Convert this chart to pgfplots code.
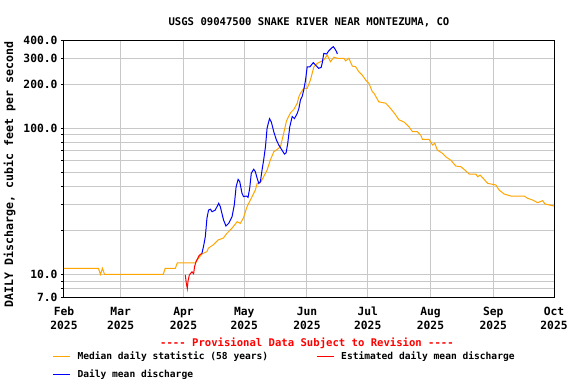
\documentclass[border=0pt]{standalone}
\usepackage{fontspec}
\setmonofont{DejaVu Sans Mono}
\usepackage{pgfplots}
\pgfplotsset{compat=1.18}
\definecolor{med}{HTML}{FFA500}
\definecolor{gridg}{HTML}{C8C8C8}
\newcommand{\ml}[1]{\vphantom{Feb}#1\\2025}
\begin{document}
\begin{tikzpicture}[x=1pt,y=1pt]
\path[use as bounding box] (0,0) rectangle (576,384);
\begin{axis}[
  at={(64pt,87pt)}, anchor=south west,
  scale only axis, width=490pt, height=257pt,
  ymode=log, ymin=7, ymax=400,
  xmin=0, xmax=242,
  axis line style={black, line width=1pt},
  xtick={0,28,59,89,120,150,181,212,242},
  xticklabels={\ml{Feb},\ml{Mar},\ml{Apr},\ml{May},\ml{Jun},\ml{Jul},\ml{Aug},\ml{Sep},\ml{Oct}},
  xticklabel style={align=center, font=\ttfamily\bfseries\fontsize{11.3}{14}\selectfont, yshift=-3pt},
  ytick={7,10,100,200,300,400},
  yticklabels={7.0,10.0,100.0,200.0,300.0,400.0},
  yticklabel style={font=\ttfamily\bfseries\fontsize{11.3}{12}\selectfont},
  extra y ticks={8,9,20,30,40,50,60,70,80,90},
  extra y tick labels={},
  extra y tick style={grid=major},
  minor ytick={},
  ymajorgrids, xmajorgrids,
  grid style={gridg, line width=1pt},
  major tick length=3pt,
  tick style={black, line width=0.8pt},
  xtick style={draw=none},
  ytick pos=left, tick align=outside,
  xtick pos=bottom,
  title={USGS 09047500 SNAKE RIVER NEAR MONTEZUMA, CO},
  title style={font=\ttfamily\bfseries\fontsize{10.6}{12}\selectfont, yshift=3pt},
  ylabel={DAILY Discharge, cubic feet per second},
  ylabel style={at={(ticklabel cs:0.477)}, font=\ttfamily\bfseries\fontsize{11.6}{12}\selectfont, yshift=-5pt},
  legend columns=2,
  legend style={at={(-0.03,-0.198)}, anchor=north west, draw=none, fill=none,
    font=\ttfamily\bfseries\fontsize{9.6}{11}\selectfont,
    /tikz/every odd column/.append style={column sep=5pt},
    /tikz/every even column/.append style={column sep=46pt},
    row sep=4.5pt},
  legend cell align=left,
  legend image code/.code={\draw[#1, line width=1pt] (0pt,0pt) -- (17pt,0pt);},
  clip=true,
]
% Median daily statistic
\addplot[med, line width=1pt] coordinates {
(0,11.0)(17,11.0)(18,10)(19,11)(20,10)(49,10)(50,11)(55,11)(56,12)(65,12)
(65.7,12.5)(68.1,13.8)(70.6,14.3)(71.3,15.1)(73.7,15.9)(76.2,17.2)(78.7,17.7)
(80.5,19.1)(83.0,20.7)(85.5,22.9)(87.1,22.3)(88.6,24.3)(90.4,29.0)(92.0,32.2)
(94.5,37.7)(95.4,41.9)(97.0,42.3)(98.6,46.5)(100.3,51.6)(101.9,60.4)(103.6,68.9)
(105.3,71.5)(106.9,74.5)(108.5,92)(109.9,112)(111.8,127)(113.5,134)(115.2,148)
(116.0,164)(116.8,173)(118.4,187)(120.1,187)(121.7,213)(123.4,262)(125.1,277)
(126.7,284)(128.3,292)(130.0,316)(131.6,284)(133.3,305)(135.0,300)(138.2,300)
(139.1,288)(140.7,300)(142.4,265)(144.0,263)(145.6,243)(147.3,230)(149.0,213)
(150.6,202)(152.3,177)(153.1,173)(155.5,151)(158.9,148)(161.3,136)(163.8,123)
(165.4,114)(167.9,110)(170.4,102)(172.1,94.4)(174.5,94.4)(176.2,89.6)(177.0,83.7)
(180.3,83.7)(182.0,76.6)(183.1,78.7)(184.4,70.8)(186.9,67.2)(188.5,63.7)(191.0,60.4)
(193.5,55.0)(196.0,54.4)(197.6,52.2)(200.1,48.5)(203.4,48.5)(204.3,46.5)(205.5,47.7)
(207.5,44.6)(209.2,41.9)(213.3,40.8)(214.9,37.7)(217.4,35.4)(220.7,34.3)(227.3,34.3)
(229.0,33.1)(231.5,32.2)(233.9,30.9)(236.4,31.9)(237.5,30.3)(239.7,29.8)(242,29.3)
};
\addlegendentry{Median daily statistic (58 years)}
% Estimated daily mean discharge
\addplot[red, line width=1pt] coordinates {
(59.9,9.9)(60.4,8.7)(60.9,8.0)(61.2,8.9)(61.9,9.9)(62.4,10.1)(63.2,10.4)(64.0,10.1)
(64.5,11.3)(65.2,12.2)(66.2,13.0)(66.8,13.5)(67.8,13.8)(68.1,13.9)
};
\addlegendentry{Estimated daily mean discharge}
% Daily mean discharge
\addplot[blue, line width=1pt] coordinates {
(68.1,13.9)(68.9,15.5)(69.8,18.1)(70.6,24.2)(71.4,27.5)(72.3,27.9)(73.1,26.8)
(74.7,27.5)(76.4,30.6)(77.2,29.0)(78.0,26.1)(78.8,23.5)(80.0,21.4)(81.3,22.3)
(83.0,24.8)(84.1,29.8)(85.0,39.7)(86.0,44.6)(86.8,43.0)(87.9,35.8)(88.7,34.0)
(90.1,34.3)(90.9,33.6)(91.7,38.7)(92.5,49.1)(93.7,52.3)(94.5,50.3)(95.4,45.3)
(96.2,41.9)(97.0,43.0)(97.8,51.6)(98.6,60.4)(99.5,74.5)(100.3,100)(101.5,116)
(102.4,110)(103.6,94.4)(104.9,82.8)(106.1,76.5)(107.4,71.6)(108.9,66.4)(109.7,67.8)
(110.5,78.6)(111.5,102)(112.7,120)(113.8,116)(115.2,126)(116.0,136)(116.8,156)
(117.6,164)(118.4,182)(119.3,213)(120.1,262)(121.4,262)(123.1,280)(124.2,270)
(125.8,256)(127.0,260)(127.5,277)(128.3,324)(129.7,321)(130.8,338)(132.0,351)
(133.0,360)(133.6,351)(134.6,333)(135.0,321)
};
\addlegendentry{Daily mean discharge}
\end{axis}
\node[font=\ttfamily\bfseries\fontsize{10.6}{12}\selectfont, text=red] at (307pt,41pt) {---- Provisional Data Subject to Revision ----};
\end{tikzpicture}
\end{document}
